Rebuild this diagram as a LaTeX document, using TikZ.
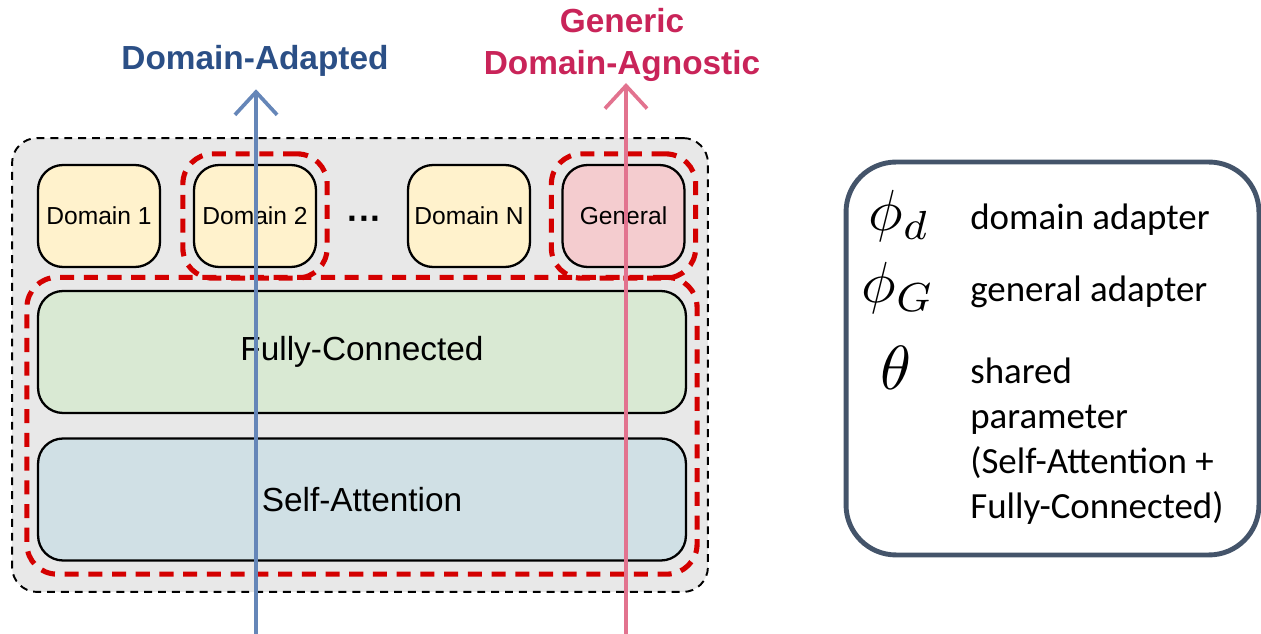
\documentclass[tikz,border=0pt]{standalone}
\usepackage{fontspec}
\setmainfont{Carlito}
\setsansfont{Liberation Sans}
\usetikzlibrary{arrows.meta,positioning,fit}

\definecolor{panelgray}{HTML}{E8E8E8}
\definecolor{domfill}{HTML}{FFF2CC}
\definecolor{genfill}{HTML}{F4CCCF}
\definecolor{fcfill}{HTML}{D9E9D3}
\definecolor{safill}{HTML}{D0E0E5}
\definecolor{adaptblue}{HTML}{6586B8}
\definecolor{agnopink}{HTML}{E2738F}
\definecolor{labelblue}{HTML}{2B4F86}
\definecolor{labelred}{HTML}{C92459}
\definecolor{dashred}{HTML}{D40000}
\definecolor{legendframe}{HTML}{44546A}

\begin{document}
\begin{tikzpicture}[
  x=0.02cm, y=-0.02cm,
  adapter/.style={draw=black, line width=1.3pt, rounded corners=0.5cm,
    minimum width=2.44cm, minimum height=2.04cm, inner sep=0pt,
    font=\sffamily\fontsize{14}{16}\selectfont},
  domainbox/.style={adapter, fill=domfill},
  layer/.style={draw=black, line width=1.3pt, rounded corners=0.5cm,
    minimum width=12.96cm, minimum height=2.44cm,
    font=\sffamily\fontsize{19}{22}\selectfont},
  redgroup/.style={draw=dashred, line width=2.9pt, dash pattern=on 8pt off 5.5pt,
    rounded corners=0.6cm, inner sep=0.2cm},
  flow/.style={line width=2.1pt, -{Straight Barb[length=13pt, width=24pt, line width=2.1pt]}},
  heading/.style={inner sep=0pt, font=\sffamily\bfseries\fontsize{19}{24}\selectfont},
  sym/.style={inner sep=0pt, transform shape},
  entry/.style={inner sep=0pt, anchor=west, font=\fontsize{21}{25.5}\selectfont},
]
\useasboundingbox (0,0) rectangle (1261,634);

% shared block
\node[draw=black, fill=panelgray, line width=1.1pt, dash pattern=on 4.5pt off 3.4pt,
  rounded corners=0.5cm, minimum width=13.92cm, minimum height=9.08cm] (block) at (360,365) {};

% adapters
\node[domainbox] (dom1) at (99,216) {Domain 1};
\node[domainbox] (dom2) at (255,216) {Domain 2};
\node[font=\sffamily\bfseries\fontsize{20}{22}\selectfont] (dots) at (365,223) {···};
\node[domainbox] (domN) at (469,216) {Domain N};
\node[adapter, fill=genfill] (general) at (623.5,216) {General};

% shared layers
\node[layer, fill=fcfill] (fc) at (362,352) {Fully-Connected};
\node[layer, fill=safill] (sa) at (362,499.5) {Self-Attention};

% what each path uses
\node[redgroup, fit=(dom2)] (pick2) {};
\node[redgroup, fit=(general)] (pickG) {};
\node[redgroup, fit=(fc)(sa), inner ysep=0.25cm] (shared) {};

% outputs
\node[heading, text=labelblue, anchor=base] (adapted) at (255,70) {Domain-Adapted};
\node[heading, text=labelred, anchor=south, align=center] (agnostic) at (622,82)
  {Generic\\Domain-Agnostic};

\coordinate (bluein) at (256,640);
\coordinate (pinkin) at (626,640);
\draw[flow, adaptblue, shorten >=0.24cm] (bluein) -- (bluein |- adapted.south);
\draw[flow, agnopink, shorten >=0.02cm] (pinkin) -- (pinkin |- agnostic.south);

% legend
\node[draw=legendframe, line width=2.8pt, rounded corners=1cm,
  minimum width=8.26cm, minimum height=7.86cm] (legend) at (1052.5,358.5) {};
\node[sym, scale=3.3] (phid) at (899,216) {$\phi_d$};
\node[entry] (phidtxt) at (970,220) {domain adapter};
\node[sym, scale=3.3] (phig) at (898,288) {$\phi_G$};
\node[entry] (phigtxt) at (970,292) {general adapter};
\node[sym, scale=3.55] (theta) at (896,368) {$\theta$};
\node[entry, anchor=north west, align=left] (thetatxt) at (970,358)
  {shared\\parameter\\(Self-Attention +\\Fully-Connected)};
\end{tikzpicture}
\end{document}
